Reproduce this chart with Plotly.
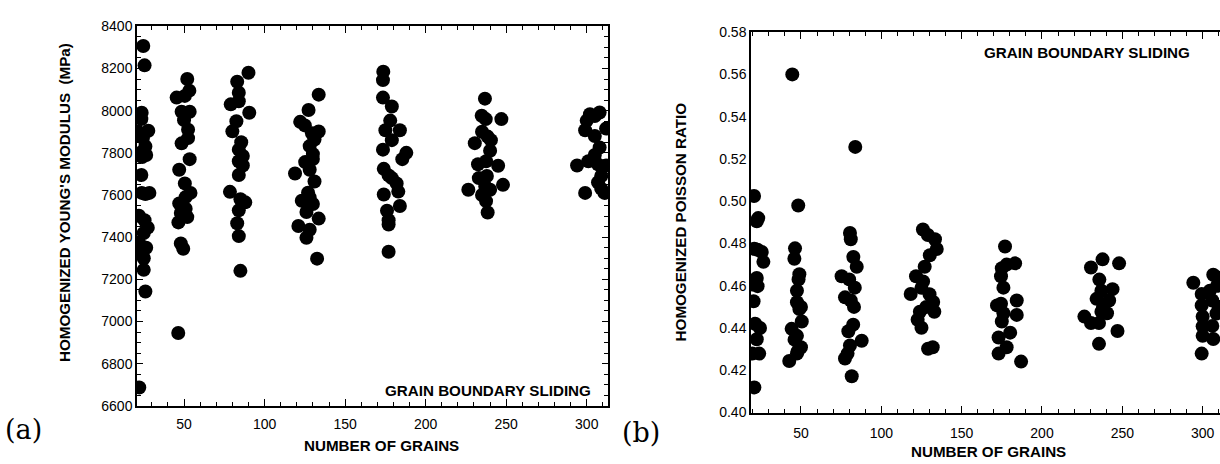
import plotly.graph_objects as go

# ---------------- data: panel (a) Young's modulus (MPa) ----------------
grains_a = [
    # ~25 grains
    24.7, 25.5, 23.7, 23.5, 21.5, 27.8, 24.5, 26.0, 23.0, 26.5, 24.0, 23.5, 23.7, 28.5, 26.0,
    22.0, 25.5, 27.5, 25.0, 22.0, 26.5, 23.0, 25.0, 25.0, 26.0, 22.2,
    # ~50 grains
    45.4, 52.0, 53.3, 50.5, 48.5, 53.5, 50.0, 52.5, 52.5, 48.5, 53.5, 47.0, 50.5, 54.0, 51.0,
    47.0, 51.0, 48.0, 52.0, 46.5, 48.0, 49.5, 46.4,
    # ~85 grains
    90.0, 83.0, 84.0, 84.0, 79.0, 90.5, 82.5, 80.0, 85.5, 84.0, 86.5, 84.0, 86.5, 84.0, 78.5,
    88.0, 85.0, 84.0, 83.0, 84.0, 85.0,
    # ~125 grains
    133.6, 127.3, 122.1, 125.0, 129.4, 133.6, 131.0, 128.0, 130.0, 125.2, 130.0, 118.9, 128.0,
    131.0, 127.0, 128.0, 123.1, 130.0, 126.0, 133.6, 121.0, 128.0, 126.0, 132.6,
    # ~178 grains
    173.7, 173.5, 173.5, 179.0, 178.0, 175.0, 184.0, 179.0, 173.5, 188.0, 185.5, 174.0, 177.0,
    182.0, 179.0, 174.0, 183.0, 184.0, 176.0, 177.0, 177.0, 177.0,
    # ~238 grains
    236.8, 234.8, 237.3, 247.0, 235.0, 238.5, 230.5, 240.5, 240.0, 232.5, 245.0, 237.5, 233.0,
    238.0, 226.5, 248.0, 240.0, 237.0, 237.5, 238.5, 235.0,
    # ~305 grains
    299.0, 300.0, 302.0, 305.0, 308.0, 312.0, 305.0, 308.0, 305.0, 294.0, 301.0, 312.0, 307.0,
    309.0, 307.0, 299.0, 311.0, 309.0,
]
modulus_a = [
    8307, 8215, 7990, 7960, 7900, 7905, 7870, 7830, 7800, 7790, 7780, 7695, 7610, 7610, 7605,
    7502, 7480, 7445, 7420, 7375, 7350, 7320, 7300, 7245, 7142, 6687,
    8062, 8150, 8095, 8070, 7995, 7995, 7955, 7910, 7870, 7845, 7770, 7720, 7655, 7610, 7590,
    7560, 7535, 7515, 7495, 7470, 7370, 7345, 6945,
    8180, 8137, 8085, 8045, 8030, 7990, 7950, 7902, 7850, 7815, 7785, 7760, 7740, 7695, 7615,
    7565, 7580, 7527, 7466, 7405, 7240,
    8076, 8003, 7947, 7930, 7893, 7901, 7863, 7832, 7794, 7756, 7771, 7702, 7720,
    7664, 7611, 7588, 7573, 7557, 7519, 7488, 7453, 7435, 7397, 7298,
    8185, 8145, 8062, 8020, 7953, 7907, 7907, 7860, 7815, 7800, 7770, 7724, 7693,
    7655, 7680, 7602, 7616, 7548, 7525, 7480, 7460, 7331,
    8057, 7976, 7960, 7960, 7900, 7877, 7846, 7860, 7810, 7746, 7739, 7760, 7680,
    7690, 7625, 7648, 7625, 7640, 7571, 7517, 7600,
    7907, 7953, 7983, 7975, 7991, 7915, 7880, 7825, 7790, 7740, 7760, 7740, 7745,
    7690, 7660, 7610, 7610, 7630,
]

# ---------------- data: panel (b) Poisson ratio ----------------
grains_b = [
    20.8, 23.4, 22.5, 21.0, 25.6, 23.0, 26.6, 22.5, 20.3, 23.0, 20.5, 21.5, 24.5, 22.5, 19.8, 24.0, 21.0,
    44.6, 48.3, 46.3, 45.9, 49.0, 48.5, 47.5, 47.5, 50.0, 49.0, 50.5, 44.2, 47.5, 46.0, 50.0, 48.0, 47.5, 42.7,
    83.8, 80.5, 81.0, 82.6, 84.7, 75.3, 80.0, 83.5, 77.4, 81.0, 83.0, 82.5, 79.5, 87.8, 80.5, 79.0, 77.4, 81.6,
    125.9, 129.0, 133.4, 134.5, 130.2, 127.0, 121.6, 126.0, 125.0, 118.3, 130.0, 132.3, 128.0, 133.0, 124.0,
    122.6, 125.0, 129.1, 132.0,
    177.0, 175.0, 183.3, 178.0, 174.5, 176.0, 174.5, 184.3, 172.0, 184.3, 175.0, 173.0, 180.2, 178.0, 173.0,
    187.0, 176.0,
    237.7, 248.0, 230.5, 235.7, 237.0, 243.9, 234.0, 241.8, 226.4, 237.0, 240.5, 230.5, 235.5, 247.0, 235.5, 238.0,
    294.2, 306.6, 309.0, 299.4, 304.5, 299.4, 306.0, 300.0, 308.6, 300.0, 306.0, 300.0, 306.6, 299.4, 309.0, 310.0,
]
poisson_b = [
    0.5025, 0.4920, 0.4905, 0.4775, 0.4760, 0.4770, 0.4713, 0.4637, 0.4606, 0.4598, 0.4527, 0.4420, 0.4400,
    0.4347, 0.4279, 0.4279, 0.4119,
    0.5600, 0.4980, 0.4777, 0.4728, 0.4655, 0.4630, 0.4576, 0.4522, 0.4500, 0.4490, 0.4431, 0.4396, 0.4363,
    0.4345, 0.4309, 0.4290, 0.4279, 0.4244,
    0.5257, 0.4850, 0.4820, 0.4736, 0.4690, 0.4645, 0.4630, 0.4591, 0.4545, 0.4530, 0.4500, 0.4416, 0.4385,
    0.4340, 0.4317, 0.4279, 0.4256, 0.4172,
    0.4866, 0.4840, 0.4820, 0.4774, 0.4744, 0.4690, 0.4645, 0.4620, 0.4590, 0.4561, 0.4560, 0.4523, 0.4500,
    0.4477, 0.4477, 0.4439, 0.4401, 0.4302, 0.4309,
    0.4786, 0.4683, 0.4706, 0.4700, 0.4645, 0.4591, 0.4515, 0.4530, 0.4507, 0.4462, 0.4431, 0.4355, 0.4378,
    0.4309, 0.4279, 0.4241, 0.4470,
    0.4725, 0.4706, 0.4686, 0.4629, 0.4576, 0.4584, 0.4538, 0.4530, 0.4454, 0.4477, 0.4470, 0.4424, 0.4424,
    0.4386, 0.4325, 0.4500,
    0.4614, 0.4652, 0.4640, 0.4561, 0.4576, 0.4507, 0.4530, 0.4454, 0.4469, 0.4408, 0.4410, 0.4363, 0.4348,
    0.4279, 0.4600, 0.4500,
]

x_title = "NUMBER OF GRAINS"
y_title_a = "HOMOGENIZED YOUNG'S MODULUS  (MPa)"
y_title_b = "HOMOGENIZED POISSON RATIO"
note = "GRAIN BOUNDARY SLIDING"

W, H = 1220, 464
SANS = "Liberation Sans, Arial, Helvetica, sans-serif"
SERIF = "DejaVu Serif, Liberation Serif, serif"


def px(x):
    return x / W


def py(y):
    return 1 - y / H


fig = go.Figure()
marker = dict(size=14, color="black", line=dict(width=0))
fig.add_trace(go.Scatter(x=grains_a, y=modulus_a, mode="markers", marker=marker,
                         xaxis="x", yaxis="y", showlegend=False))
fig.add_trace(go.Scatter(x=grains_b, y=poisson_b, mode="markers", marker=marker,
                         xaxis="x2", yaxis="y2", showlegend=False))

tickfont = dict(family=SANS, size=14, color="black")
common = dict(showgrid=False, zeroline=False, showline=True, linecolor="black",
              linewidth=1.5, ticks="inside", tickcolor="black", tickwidth=1.2,
              tickfont=tickfont)

fig.update_layout(
    width=W, height=H,
    margin=dict(l=0, r=0, t=0, b=0),
    paper_bgcolor="white", plot_bgcolor="white",
    xaxis=dict(domain=[px(137), px(608)], range=[20.8, 313.2], anchor="y",
               tick0=0, dtick=50, ticklen=7, mirror="ticks", ticklabelstandoff=5,
               minor=dict(dtick=10, ticklen=4, ticks="inside", tickcolor="black", tickwidth=1),
               **common),
    yaxis=dict(domain=[py(412), py(19)], range=[6600, 8400], anchor="x",
               tick0=6600, dtick=200, ticklen=6, mirror="ticks",
               minor=dict(dtick=50, ticklen=4, ticks="inside", tickcolor="black", tickwidth=1),
               **common),
    xaxis2=dict(domain=[px(751), 1.0], range=[18.9, 310.8], anchor="y2",
                tick0=0, dtick=50, ticklen=7, mirror="ticks", ticklabelstandoff=7,
                minor=dict(dtick=10, ticklen=4, ticks="inside", tickcolor="black", tickwidth=1),
                **common),
    yaxis2=dict(domain=[py(419), py(25)], range=[0.40, 0.58], anchor="x2",
                tick0=0.40, dtick=0.02, tickformat=".2f", ticklen=0, mirror=False,
                **common),
)

bold = dict(family=SANS, size=15.2, color="black")
ann = [
    dict(text="<b>%s</b>" % y_title_a, x=px(64), y=py(202), textangle=-90),
    dict(text="<b>%s</b>" % x_title, x=px(381), y=py(453)),
    dict(text="<b>%s</b>" % note, x=px(593), y=py(396), xanchor="right"),
    dict(text="<b>%s</b>" % y_title_b, x=px(680), y=py(221), textangle=-90),
    dict(text="<b>%s</b>" % x_title, x=px(988), y=py(459)),
    dict(text="<b>%s</b>" % note, x=px(1192), y=py(46), xanchor="right"),
]
for a in ann:
    a.setdefault("xanchor", "center")
    fig.add_annotation(xref="paper", yref="paper", yanchor="middle", showarrow=False,
                       font=bold, **a)

for lab, x0, y0 in [("(a)", 23, 437), ("(b)", 641, 440)]:
    fig.add_annotation(text=lab, xref="paper", yref="paper", x=px(x0), y=py(y0),
                       xanchor="center", yanchor="middle", showarrow=False,
                       font=dict(family=SERIF, size=27, color="black"))

fig.write_html("out.html", config={"displayModeBar": False})
